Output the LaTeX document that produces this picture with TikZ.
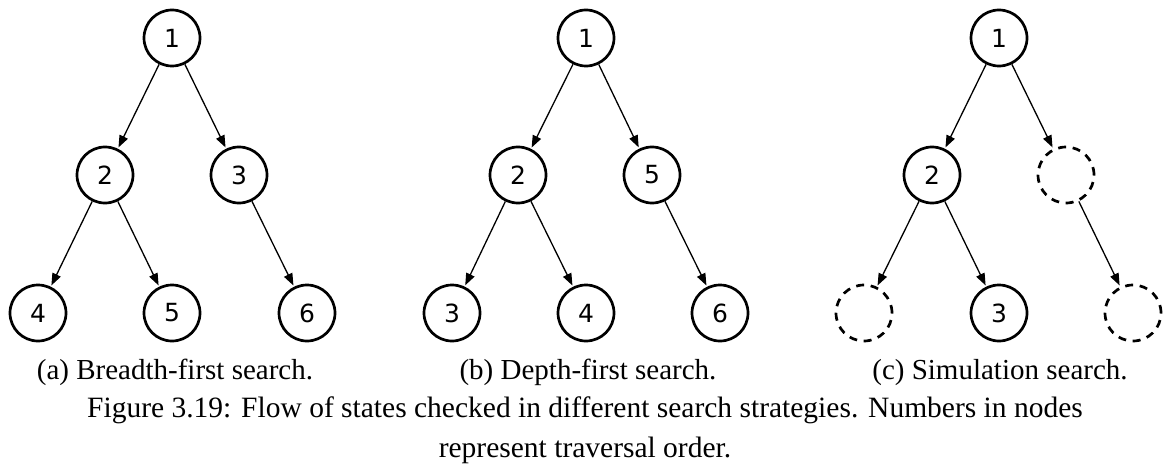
\documentclass[tikz,border=0pt]{standalone}
\usepackage{fontspec}
\setmainfont{Liberation Serif}
\newfontfamily\nodefont{DejaVu Sans}
\usetikzlibrary{arrows.meta}
\tikzset{
  st/.style={circle, draw, line width=2.7pt, minimum size=56pt, inner sep=0pt,
    font=\nodefont\fontsize{25}{25}\selectfont},
  ghost/.style={st, dash pattern=on 8pt off 6.6pt},
  conn/.style={line width=1.3pt, -{Triangle[length=12pt,width=9pt]}, shorten >=1.3pt},
  captext/.style={anchor=base, inner sep=0pt, font=\fontsize{29}{34}\selectfont},
  figtext/.style={anchor=base, inner sep=0pt, font=\fontsize{29.5}{34}\selectfont}
}
\begin{document}
\begin{tikzpicture}[x=1pt,y=-1pt]
\useasboundingbox (0,0) rectangle (1164,468);
% tree a
\node[st] (a1) at (172,38) {1};
\node[st] (a2) at (105,175) {2};
\node[st] (a3) at (239,175) {3};
\node[st] (a4) at (38,313) {4};
\node[st] (a5) at (172,313) {5};
\node[st] (a6) at (307,313) {6};
\draw[conn] (a1) -- (a2);
\draw[conn] (a1) -- (a3);
\draw[conn] (a2) -- (a4);
\draw[conn] (a2) -- (a5);
\draw[conn] (a3) -- (a6);
% tree b
\node[st] (b1) at (586,38) {1};
\node[st] (b2) at (518,175) {2};
\node[st] (b5) at (652,175) {5};
\node[st] (b3) at (452,313) {3};
\node[st] (b4) at (586,313) {4};
\node[st] (b6) at (720,313) {6};
\draw[conn] (b1) -- (b2);
\draw[conn] (b1) -- (b5);
\draw[conn] (b2) -- (b3);
\draw[conn] (b2) -- (b4);
\draw[conn] (b5) -- (b6);
% tree c
\node[st] (c1) at (999,38) {1};
\node[st] (c2) at (932,175) {2};
\node[ghost] (cr) at (1066,175) {};
\node[ghost] (cl) at (864,313) {};
\node[st] (c3) at (999,313) {3};
\node[ghost] (crr) at (1133,313) {};
\draw[conn] (c1) -- (c2);
\draw[conn] (c1) -- (cr);
\draw[conn] (c2) -- (cl);
\draw[conn] (c2) -- (c3);
\draw[conn] (cr) -- (crr);
% captions
\node[captext] (sa) at (175,379) {(a) Breadth-first search.};
\node[captext] (sb) at (588,379) {(b) Depth-first search.};
\node[captext] (sc) at (1000,379) {(c) Simulation search.};
\node[figtext] (f1) at (585,417) {Figure 3.19: Flow of states checked in different search strategies. Numbers in nodes};
\node[figtext] (f2) at (585,457) {represent traversal order.};
\end{tikzpicture}
\end{document}
